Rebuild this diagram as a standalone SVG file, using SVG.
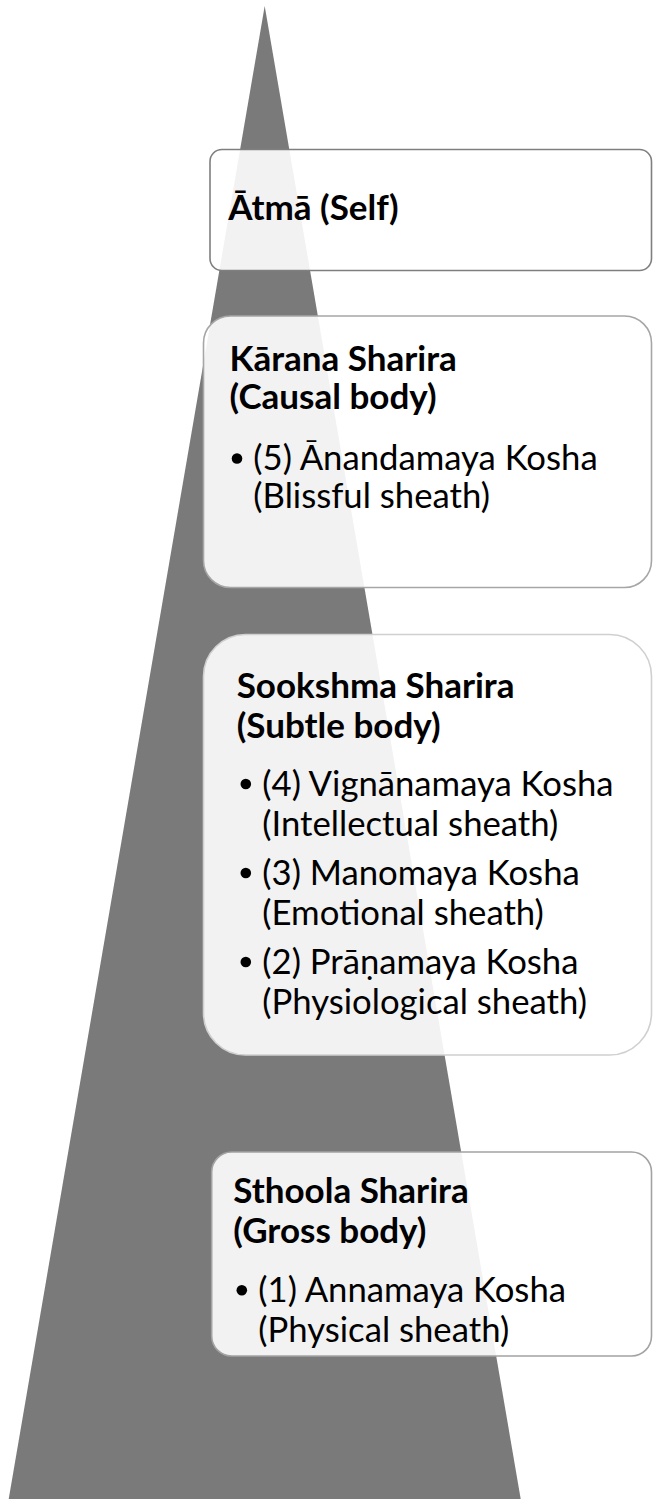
<svg xmlns="http://www.w3.org/2000/svg" width="653" height="1499" viewBox="0 0 653 1499">
<style>
.box{fill:#ffffff;fill-opacity:0.9;stroke-width:1.6}
.t{font-family:Lato,"Open Sans","Liberation Sans",sans-serif;font-size:34.7px;fill:#000}
.b{font-weight:bold;font-size:35px}
.dot{fill:#000}
</style>
<rect x="0" y="0" width="653" height="1499" fill="#ffffff"/>
<g id="pyramid">
<polygon points="264.7,6 520.7,1499 8.7,1499" fill="#7a7a7a"/>
</g>
<g id="atma">
<rect class="box" x="210" y="149.5" width="441.5" height="121" rx="12" ry="12" stroke="#7f7f7f"/>
<text class="t b" x="228.3" y="220">Ātmā (Self)</text>
</g>
<g id="karana">
<rect class="box" x="203.5" y="316" width="448" height="271.5" rx="27" ry="27" stroke="#a6a6a6"/>
<text class="t b" x="229.5" y="370.5">Kārana Sharira</text>
<text class="t b" x="229.5" y="408.5">(Causal body)</text>
<circle class="dot" cx="237" cy="458.5" r="5.3"/>
<text class="t" x="253.3" y="470">(5) Ānandamaya Kosha</text>
<text class="t" x="253.3" y="508.3">(Blissful sheath)</text>
</g>
<g id="sookshma">
<rect class="box" x="203.5" y="634.5" width="448" height="420.5" rx="42" ry="42" stroke="#d0d0d0"/>
<text class="t b" x="236.7" y="698">Sookshma Sharira</text>
<text class="t b" x="236.7" y="738">(Subtle body)</text>
<circle class="dot" cx="245.8" cy="784" r="5.3"/>
<text class="t" x="262.3" y="795.5">(4) Vignānamaya Kosha</text>
<text class="t" x="262.3" y="835.5">(Intellectual sheath)</text>
<circle class="dot" cx="245.8" cy="873" r="5.3"/>
<text class="t" x="262.3" y="884.5">(3) Manomaya Kosha</text>
<text class="t" x="262.3" y="924.5">(Emotional sheath)</text>
<circle class="dot" cx="245.8" cy="962" r="5.3"/>
<text class="t" x="262.3" y="973.5">(2) Prāṇamaya Kosha</text>
<text class="t" x="262.3" y="1013.5">(Physiological sheath)</text>
</g>
<g id="sthoola">
<rect class="box" x="211.7" y="1152" width="439.8" height="204" rx="20" ry="20" stroke="#a3a3a3"/>
<text class="t b" x="233.3" y="1203.3">Sthoola Sharira</text>
<text class="t b" x="233.3" y="1243">(Gross body)</text>
<circle class="dot" cx="241.8" cy="1290.2" r="5.3"/>
<text class="t" x="258.3" y="1301.7">(1) Annamaya Kosha</text>
<text class="t" x="258.3" y="1341.7">(Physical sheath)</text>
</g>
<g id="connectors"/>
</svg>
